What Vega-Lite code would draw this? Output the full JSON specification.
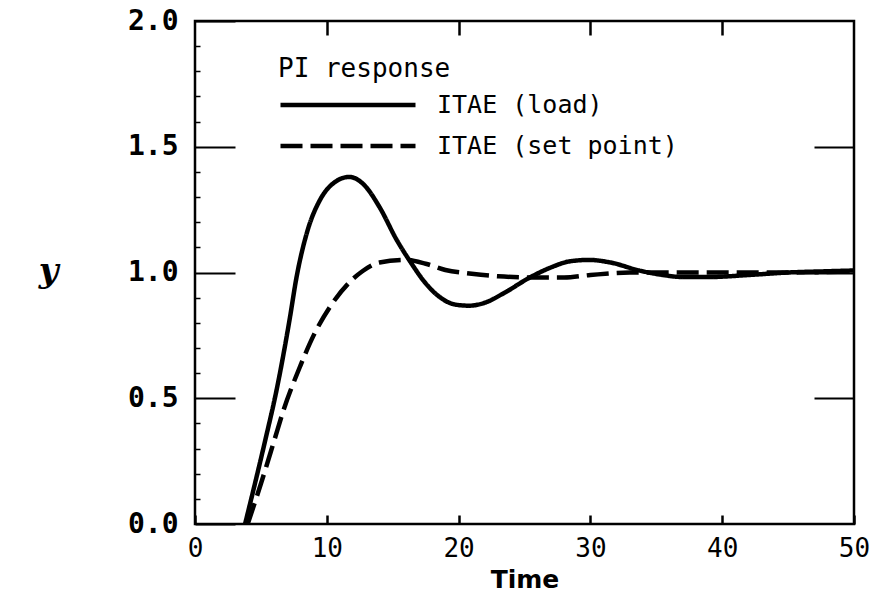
{
  "$schema": "https://vega.github.io/schema/vega-lite/v6.json",
  "width": 659,
  "height": 503,
  "autosize": "none",
  "padding": {"left": 195, "top": 21, "right": 21, "bottom": 75},
  "background": "white",
  "config": {
    "view": {"stroke": "black", "strokeWidth": 2.5},
    "axis": {"grid": false, "domain": false, "tickColor": "black", "labelColor": "black", "titleColor": "black"}
  },
  "data": {"values": [
    {"t": 3.8, "y": 0.0, "s": "ITAE (load)"},
    {"t": 4.5, "y": 0.15, "s": "ITAE (load)"},
    {"t": 5.45, "y": 0.36, "s": "ITAE (load)"},
    {"t": 6.1, "y": 0.51, "s": "ITAE (load)"},
    {"t": 7.2, "y": 0.82, "s": "ITAE (load)"},
    {"t": 7.7, "y": 0.98, "s": "ITAE (load)"},
    {"t": 8.5, "y": 1.16, "s": "ITAE (load)"},
    {"t": 9.5, "y": 1.29, "s": "ITAE (load)"},
    {"t": 10.5, "y": 1.355, "s": "ITAE (load)"},
    {"t": 11.7, "y": 1.38, "s": "ITAE (load)"},
    {"t": 12.8, "y": 1.35, "s": "ITAE (load)"},
    {"t": 14.0, "y": 1.26, "s": "ITAE (load)"},
    {"t": 15.3, "y": 1.13, "s": "ITAE (load)"},
    {"t": 16.5, "y": 1.03, "s": "ITAE (load)"},
    {"t": 17.3, "y": 0.97, "s": "ITAE (load)"},
    {"t": 18.5, "y": 0.905, "s": "ITAE (load)"},
    {"t": 19.8, "y": 0.872, "s": "ITAE (load)"},
    {"t": 20.8, "y": 0.868, "s": "ITAE (load)"},
    {"t": 22.0, "y": 0.88, "s": "ITAE (load)"},
    {"t": 23.5, "y": 0.92, "s": "ITAE (load)"},
    {"t": 25.4, "y": 0.98, "s": "ITAE (load)"},
    {"t": 27.0, "y": 1.02, "s": "ITAE (load)"},
    {"t": 28.5, "y": 1.045, "s": "ITAE (load)"},
    {"t": 29.9, "y": 1.05, "s": "ITAE (load)"},
    {"t": 31.5, "y": 1.04, "s": "ITAE (load)"},
    {"t": 33.7, "y": 1.008, "s": "ITAE (load)"},
    {"t": 35.5, "y": 0.99, "s": "ITAE (load)"},
    {"t": 37.0, "y": 0.982, "s": "ITAE (load)"},
    {"t": 39.0, "y": 0.982, "s": "ITAE (load)"},
    {"t": 42.0, "y": 0.99, "s": "ITAE (load)"},
    {"t": 45.0, "y": 1.0, "s": "ITAE (load)"},
    {"t": 48.0, "y": 1.005, "s": "ITAE (load)"},
    {"t": 50.0, "y": 1.008, "s": "ITAE (load)"},
    {"t": 4.0, "y": 0.0, "s": "ITAE (set point)"},
    {"t": 5.0, "y": 0.16, "s": "ITAE (set point)"},
    {"t": 6.0, "y": 0.33, "s": "ITAE (set point)"},
    {"t": 6.7, "y": 0.45, "s": "ITAE (set point)"},
    {"t": 8.0, "y": 0.63, "s": "ITAE (set point)"},
    {"t": 9.0, "y": 0.75, "s": "ITAE (set point)"},
    {"t": 10.2, "y": 0.86, "s": "ITAE (set point)"},
    {"t": 11.7, "y": 0.96, "s": "ITAE (set point)"},
    {"t": 12.7, "y": 1.005, "s": "ITAE (set point)"},
    {"t": 14.0, "y": 1.04, "s": "ITAE (set point)"},
    {"t": 16.0, "y": 1.05, "s": "ITAE (set point)"},
    {"t": 17.5, "y": 1.035, "s": "ITAE (set point)"},
    {"t": 19.0, "y": 1.01, "s": "ITAE (set point)"},
    {"t": 21.0, "y": 0.995, "s": "ITAE (set point)"},
    {"t": 23.0, "y": 0.985, "s": "ITAE (set point)"},
    {"t": 26.0, "y": 0.98, "s": "ITAE (set point)"},
    {"t": 28.0, "y": 0.98, "s": "ITAE (set point)"},
    {"t": 30.0, "y": 0.99, "s": "ITAE (set point)"},
    {"t": 33.0, "y": 1.0, "s": "ITAE (set point)"},
    {"t": 36.0, "y": 1.0, "s": "ITAE (set point)"},
    {"t": 40.0, "y": 1.0, "s": "ITAE (set point)"},
    {"t": 45.0, "y": 1.0, "s": "ITAE (set point)"},
    {"t": 50.0, "y": 1.005, "s": "ITAE (set point)"}
  ]},
  "resolve": {"axis": {"x": "independent", "y": "independent"}},
  "layer": [
    {
      "mark": {"type": "line", "color": "black", "strokeWidth": 4.5, "interpolate": "monotone", "clip": true},
      "encoding": {
        "x": {"field": "t", "type": "quantitative", "scale": {"domain": [0, 50], "nice": false},
          "axis": {"orient": "bottom", "values": [0, 10, 20, 30, 40, 50], "tickSize": -9, "tickWidth": 2.5, "labelPadding": 20, "labelFlush": false,
            "labelFont": "DejaVu Sans Mono", "labelFontSize": 26, "title": "Time", "titleFont": "DejaVu Sans", "titleFontSize": 25, "titleFontWeight": "bold", "titlePadding": 6}},
        "y": {"field": "y", "type": "quantitative", "scale": {"domain": [0, 2], "nice": false},
          "axis": {"orient": "left", "values": [0, 0.5, 1, 1.5, 2], "format": ".1f", "tickSize": -40, "tickWidth": 2, "labelPadding": 57, "labelFlush": false,
            "labelFont": "DejaVu Sans Mono", "labelFontSize": 28, "labelFontWeight": "bold",
            "title": "y", "titleAngle": 0, "titleFont": "DejaVu Serif", "titleFontStyle": "italic", "titleFontSize": 34, "titleFontWeight": "bold",
            "titleX": -147, "titleY": 250, "titleAlign": "center", "titleBaseline": "middle"}},
        "strokeDash": {"field": "s", "type": "nominal",
          "scale": {"domain": ["ITAE (load)", "ITAE (set point)"], "range": [[1, 0], [22, 8]]},
          "legend": {"orient": "none", "legendX": 83, "legendY": 35, "title": "PI response", "titleFont": "DejaVu Sans Mono", "titleFontSize": 26, "titleFontWeight": "normal", "titleColor": "black", "titlePadding": 7, "titleLimit": 0,
            "labelFont": "DejaVu Sans Mono", "labelFontSize": 25, "labelColor": "black", "labelLimit": 0, "labelOffset": 127,
            "symbolType": "M-1,0H9", "symbolSize": 729, "symbolStrokeWidth": 4.5, "symbolStrokeColor": "black", "rowPadding": 12}}
      }
    },
    {
      "mark": {"type": "line", "strokeOpacity": 0},
      "encoding": {
        "x": {"field": "t", "type": "quantitative", "scale": {"domain": [0, 50], "nice": false},
          "axis": {"orient": "top", "values": [10, 20, 30, 40], "tickSize": -14, "tickWidth": 2.5, "labels": false, "title": null}},
        "y": {"field": "y", "type": "quantitative", "scale": {"domain": [0, 2], "nice": false},
          "axis": {"orient": "right", "values": [0.5, 1, 1.5], "tickSize": -40, "tickWidth": 2, "labels": false, "title": null}},
        "detail": {"field": "s"}
      }
    },
    {
      "mark": {"type": "line", "strokeOpacity": 0},
      "encoding": {
        "x": {"field": "t", "type": "quantitative", "scale": {"domain": [0, 50], "nice": false}, "axis": null},
        "y": {"field": "y", "type": "quantitative", "scale": {"domain": [0, 2], "nice": false},
          "axis": {"orient": "left", "values": [0.1, 0.2, 0.3, 0.4, 0.6, 0.7, 0.8, 0.9, 1.1, 1.2, 1.3, 1.4, 1.6, 1.7, 1.8, 1.9], "tickSize": -5, "tickWidth": 1.5, "labels": false, "title": null}},
        "detail": {"field": "s"}
      }
    }
  ]
}
